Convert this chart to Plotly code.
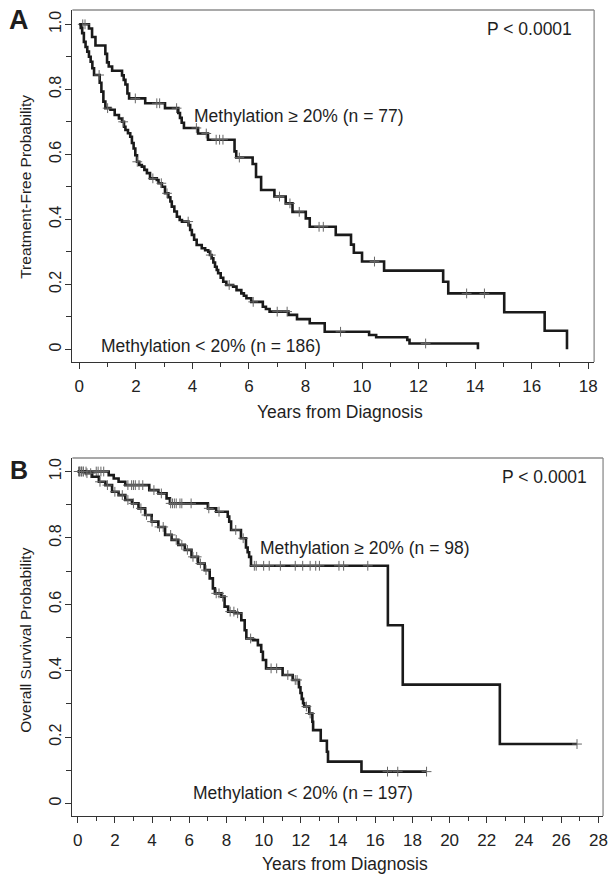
import numpy as np
import plotly.graph_objects as go

W, H = 614, 875
FONT = "Liberation Sans, Arial, sans-serif"
INK = "#1a1a1a"

# ---------------- Panel A : Treatment-free probability ----------------
a_hi_t = [0.34, 0.45, 0.57, 0.92, 0.98, 1.04, 1.16, 1.51, 1.57, 1.63, 1.70, 1.76,
          2.33, 3.03, 3.50, 3.56, 3.62, 3.70, 4.20, 4.55, 5.49, 5.55, 6.13, 6.25,
          6.43, 6.90, 7.30, 7.54, 8.01, 8.15, 9.07, 9.61, 9.71, 10.00, 10.78, 12.87,
          13.05, 15.03, 16.46, 17.25]
a_hi_s = [0.987, 0.961, 0.935, 0.909, 0.883, 0.870, 0.857, 0.843, 0.829, 0.815, 0.787, 0.772,
          0.757, 0.742, 0.727, 0.712, 0.697, 0.681, 0.664, 0.645, 0.609, 0.590, 0.570, 0.530,
          0.490, 0.470, 0.449, 0.423, 0.403, 0.377, 0.352, 0.322, 0.297, 0.270, 0.242, 0.208,
          0.172, 0.114, 0.057, 0.0]
a_hi_cens = [0.12, 0.20, 1.98, 2.74, 2.84, 3.44, 4.14, 4.49, 4.84, 4.96, 5.08, 5.66,
             7.08, 7.45, 7.78, 8.48, 8.63, 10.44, 13.70, 14.33]

a_lo_t = [0.05, 0.10, 0.16, 0.22, 0.28, 0.34, 0.40, 0.46, 0.52, 0.72, 0.78, 0.85, 0.92,
          1.10, 1.25, 1.40, 1.51, 1.58, 1.63, 1.72, 1.80, 1.86, 1.92, 1.98, 2.04, 2.12,
          2.21, 2.30, 2.39, 2.50, 2.74, 2.80, 2.92, 3.03, 3.15, 3.22, 3.27, 3.36, 3.45,
          3.55, 3.63, 3.86, 3.92, 3.98, 4.06, 4.15, 4.33, 4.45, 4.56, 4.62, 4.68, 4.74,
          4.80, 4.86, 4.91, 5.00, 5.09, 5.20, 5.44, 5.56, 5.73, 5.82, 5.91, 6.08, 6.49,
          6.60, 6.73, 7.40, 7.70, 8.15, 8.68, 10.25, 10.50, 11.60, 11.68, 14.10]
a_lo_s = [0.989, 0.973, 0.946, 0.930, 0.916, 0.900, 0.885, 0.865, 0.844, 0.820, 0.793, 0.762, 0.742,
          0.737, 0.721, 0.710, 0.700, 0.685, 0.675, 0.665, 0.654, 0.635, 0.618, 0.597, 0.577, 0.567,
          0.562, 0.552, 0.542, 0.526, 0.521, 0.511, 0.500, 0.480, 0.468, 0.455, 0.439, 0.424, 0.408,
          0.398, 0.393, 0.382, 0.367, 0.352, 0.337, 0.321, 0.311, 0.305, 0.300, 0.290, 0.280, 0.267,
          0.254, 0.244, 0.234, 0.220, 0.208, 0.198, 0.193, 0.182, 0.172, 0.165, 0.157, 0.146, 0.131,
          0.124, 0.116, 0.106, 0.093, 0.080, 0.054, 0.044, 0.037, 0.029, 0.018, 0.0]
a_lo_cens = [0.70, 1.00, 1.55, 2.05, 2.60, 2.90, 3.10, 3.85, 4.65, 5.30, 6.15, 7.00,
             7.35, 9.24, 12.25]

# ---------------- Panel B : Overall survival probability ----------------
b_hi_t = [1.67, 1.94, 2.20, 2.56, 3.85, 4.34, 4.78, 4.96, 7.00, 7.45, 8.07, 8.15, 8.25,
          8.78, 9.05, 9.14, 9.22, 9.32, 16.68, 17.48, 22.70]
b_hi_s = [0.989, 0.979, 0.969, 0.959, 0.944, 0.934, 0.919, 0.904, 0.889, 0.879, 0.864, 0.849,
          0.824, 0.799, 0.771, 0.757, 0.743, 0.716, 0.537, 0.358, 0.179]
b_hi_end = 26.85
b_hi_cens = [0.05, 0.12, 0.20, 0.30, 0.45, 1.00, 1.10, 1.25, 1.40, 2.70, 2.90, 3.00, 3.10,
             3.30, 3.50, 4.10, 4.50, 5.00, 5.10, 5.20, 5.30, 5.50, 5.60, 6.10, 7.05, 7.60,
             8.50, 8.90, 9.50, 9.60, 10.00, 10.30, 10.90, 11.70, 12.10, 12.50, 12.80, 13.00,
             14.05, 14.30, 15.60, 26.85]

b_lo_t = [0.43, 0.78, 1.14, 1.49, 1.85, 2.20, 2.56, 2.92, 3.27, 3.63, 3.98, 4.34, 4.70,
          5.05, 5.41, 5.76, 6.12, 6.47, 6.83, 7.10, 7.27, 7.38, 7.73, 7.90, 8.09, 8.45,
          8.80, 8.98, 9.07, 9.42, 9.69, 9.87, 9.96, 10.13, 11.02, 11.56, 11.90, 11.98,
          12.05, 12.12, 12.18, 12.45, 12.62, 12.66, 13.07, 13.40, 13.46, 15.26]
b_lo_s = [0.995, 0.984, 0.969, 0.959, 0.939, 0.929, 0.914, 0.904, 0.889, 0.869, 0.849, 0.833,
          0.809, 0.794, 0.779, 0.764, 0.743, 0.723, 0.703, 0.678, 0.648, 0.633, 0.623, 0.593,
          0.578, 0.573, 0.552, 0.522, 0.497, 0.492, 0.477, 0.457, 0.432, 0.407, 0.387, 0.372,
          0.350, 0.333, 0.315, 0.302, 0.292, 0.271, 0.246, 0.221, 0.189, 0.156, 0.126, 0.096]
b_lo_end = 18.76
b_lo_cens = [0.10, 0.20, 0.30, 0.50, 0.70, 1.20, 1.60, 2.00, 2.40, 2.70, 3.00, 3.40, 3.70,
             4.00, 4.40, 4.60, 5.00, 5.30, 5.60, 5.90, 6.20, 6.40, 6.60, 6.90, 7.45, 7.60,
             7.80, 8.20, 8.40, 8.60, 9.30, 10.40, 10.70, 11.30, 11.70, 11.80, 12.30, 12.50,
             16.66, 17.21, 18.76]

y_ticks = [0, 0.2, 0.4, 0.6, 0.8, 1.0]
y_ticktext = ["0", "0.2", "0.4", "0.6", "0.8", "1.0"]
y_minor = [0.1, 0.3, 0.5, 0.7, 0.9]

fig = go.Figure()


def surv_at(t, s, c):
    ta = np.array(t)
    i = np.searchsorted(ta, c, side="right") - 1
    return 1.0 if i < 0 else s[i]


def add_km(t, s, cens, end_t, xa, ya):
    x = [0.0] + list(t)
    y = [1.0] + list(s)
    if end_t is not None and end_t > t[-1]:
        x.append(end_t)
        y.append(s[-1])
    fig.add_trace(go.Scatter(x=x, y=y, mode="lines", xaxis=xa, yaxis=ya,
                             line=dict(shape="hv", color=INK, width=2.6),
                             hoverinfo="skip", showlegend=False))
    cy = [surv_at(t, s, c) for c in cens]
    fig.add_trace(go.Scatter(x=cens, y=cy, mode="markers", xaxis=xa, yaxis=ya,
                             marker=dict(symbol="cross-thin", size=7,
                                         line=dict(width=1, color="#666")),
                             hoverinfo="skip", showlegend=False))


add_km(a_hi_t, a_hi_s, a_hi_cens, None, "x", "y")
add_km(a_lo_t, a_lo_s, a_lo_cens, None, "x", "y")
add_km(b_hi_t, b_hi_s, b_hi_cens, b_hi_end, "x2", "y2")
add_km(b_lo_t, b_lo_s, b_lo_cens, b_lo_end, "x2", "y2")


def fx(px):
    return px / W


def fy(py):
    return 1 - py / H


xtickfont = dict(family=FONT, size=17, color="#222")
ytickfont = dict(family=FONT, size=16, color="#222")
common_x = dict(showgrid=False, zeroline=False, showline=True, linecolor="#333", linewidth=1.3,
                ticks="outside", ticklen=6, tickwidth=1, tickcolor="#333", tickfont=xtickfont,
                tickmode="linear", tick0=0, dtick=2, ticklabelstandoff=2,
                minor=dict(ticks="outside", ticklen=4, tickwidth=1, tickcolor="#333", dtick=1, tick0=0,
                           showgrid=False))
common_y = dict(showgrid=False, zeroline=False, showline=True, linecolor="#333", linewidth=1.3,
                ticks="outside", ticklen=6, tickwidth=1, tickcolor="#333", tickfont=ytickfont,
                tickmode="array", tickvals=y_ticks, ticktext=y_ticktext, tickangle=-90,
                ticklabelstandoff=-2,
                minor=dict(ticks="outside", ticklen=5, tickwidth=1, tickcolor="#333",
                           tickmode="array", tickvals=y_minor, showgrid=False))

fig.update_layout(
    width=W, height=H, margin=dict(l=0, r=0, t=0, b=0),
    paper_bgcolor="white", plot_bgcolor="white",
    xaxis=dict(domain=[fx(73), fx(599)], range=[-0.2456, 18.21], anchor="y", **common_x),
    yaxis=dict(domain=[fy(362), fy(10)], range=[-0.039, 1.044], anchor="x", **common_y),
    xaxis2=dict(domain=[fx(73), fx(608)], range=[-0.283, 28.25], anchor="y2", **common_x),
    yaxis2=dict(domain=[fy(816), fy(458)], range=[-0.0377, 1.0407], anchor="x2", **common_y),
)

# grey top / right frame lines
for (l, r, t, b) in [(73, 599, 10, 362), (73, 608, 458, 816)]:
    fig.add_shape(type="line", xref="paper", yref="paper", x0=fx(l), x1=fx(r), y0=fy(t), y1=fy(t),
                  line=dict(color="#8c8c8c", width=1.3))
    fig.add_shape(type="line", xref="paper", yref="paper", x0=fx(r), x1=fx(r), y0=fy(t), y1=fy(b),
                  line=dict(color="#8c8c8c", width=1.3))


def text(s, x, y, size=17.5, xanchor="center", angle=0, bold=False):
    fig.add_annotation(text=("<b>%s</b>" % s) if bold else s, x=fx(x), y=fy(y),
                       xref="paper", yref="paper", showarrow=False, xanchor=xanchor,
                       yanchor="middle", textangle=angle,
                       font=dict(family=FONT, size=size, color="#1e1e1e"))


text("A", 19, 20, size=27, bold=True)
text("B", 19, 470, size=25, bold=True)
text("P &lt; 0.0001", 534, 29)
text("P &lt; 0.0001", 549, 477)
text("Methylation ≥ 20% (n = 77)", 194, 116, xanchor="left")
text("Methylation &lt; 20% (n = 186)", 100, 346, xanchor="left")
text("Methylation ≥ 20% (n = 98)", 260, 548, xanchor="left")
text("Methylation &lt; 20% (n = 197)", 193, 793, xanchor="left")
text("Years from Diagnosis", 343, 412)
text("Years from Diagnosis", 348, 864)
text("Treatment-Free Probability", 25, 187, size=15.5, angle=-90)
text("Overall Survival Probability", 25, 640, size=15.5, angle=-90)

fig.write_html("out.html", config={"displayModeBar": False},
               post_script="document.body.style.margin='0';document.body.style.padding='0';")
